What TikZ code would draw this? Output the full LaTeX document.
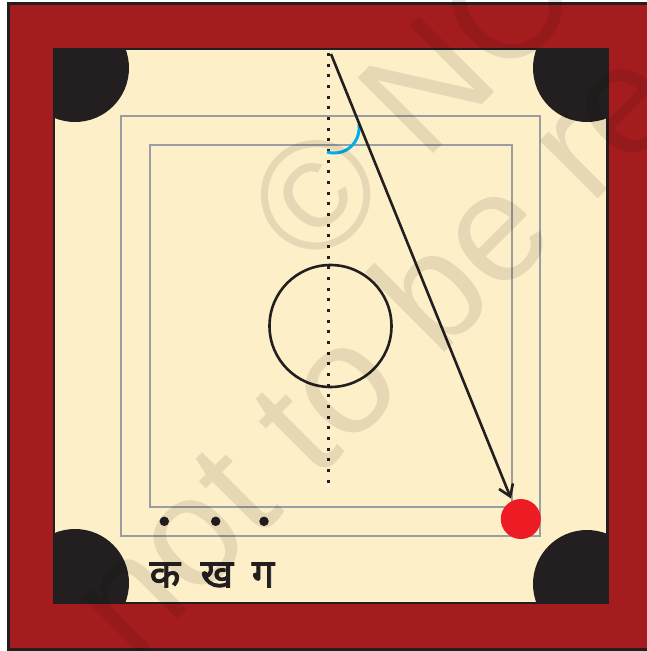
\documentclass[tikz,border=0pt]{standalone}
\usepackage{fontspec}
\usepackage{xcolor}
\usetikzlibrary{arrows.meta,positioning}
\setmainfont{Liberation Sans}
\newfontfamily\hindifont[Script=Devanagari,FakeBold=2.2]{Noto Sans}
\definecolor{frame}{HTML}{A51C1F}
\definecolor{ink}{HTML}{231F20}
\definecolor{cream}{HTML}{FDEFC8}
\definecolor{linegray}{HTML}{9A9DA1}
\definecolor{strikerred}{HTML}{ED1C24}
\definecolor{anglecyan}{HTML}{00AEEF}
\definecolor{stampgray}{HTML}{E8E7E6}
\tikzset{
  pocket/.style={fill=ink,draw=none,circle,inner sep=0pt,minimum size=108pt},
  baseline/.style={draw=linegray,line width=2pt},
  coinspot/.style={fill=ink,draw=none,circle,inner sep=0pt,minimum size=9.5pt},
  hindilabel/.style={font=\hindifont\fontsize{40}{40}\selectfont,text=ink,inner sep=0pt},
  flowarr/.style={-{Straight Barb[length=11pt,width=15pt,line width=2.6pt]},line width=2.6pt,color=ink},
  stamp/.style={text=stampgray,inner sep=0pt,anchor=base west,rotate=45,font=\fontsize{155}{155}\selectfont}
}
\begin{document}
\begin{tikzpicture}[x=1pt,y=-1pt]
  \useasboundingbox (0,0) rectangle (647,651);
  \clip (0,0) rectangle (647,651);
  \draw[fill=frame,draw=ink,line width=3pt] (8,3) rectangle (670,649);
  \fill[cream] (54,49) rectangle (607.5,603);
  \begin{scope}
    \clip (54,49) rectangle (607.5,603);
    \node[pocket] (tl) at (75,68) {};
    \node[pocket] (tr) at (587,68) {};
    \node[pocket] (bl) at (75,583) {};
    \node[pocket] (br) at (587,584) {};
  \end{scope}
  \draw[ink,line width=2.2pt] (54,49) rectangle (607.5,603);

  \draw[baseline] (121,116) rectangle (540,536);
  \draw[baseline] (150,145) rectangle (512,507);
  \node[circle,draw=ink,line width=2.6pt,minimum size=122pt,inner sep=0pt] (centre) at (330.5,326) {};

  \draw[ink,line width=3pt,dash pattern=on 3pt off 7.67pt] (328,53) -- (328,484);
  \draw[anglecyan,line width=3pt] (327,152) .. controls (345,157) and (361,143) .. (359,124);

  \node[circle,fill=strikerred,inner sep=0pt,minimum size=40pt] (striker) at (520.8,519) {};
  \coordinate (aimstart) at (331,54);
  \draw[flowarr,shorten >=2.5pt] (aimstart) -- (striker.116);

  \node[coinspot] (spotk) at (164.3,521.3) {};
  \node[coinspot] (spotkh) at (215.7,521.3) {};
  \node[coinspot] (spotg) at (264,521.3) {};
  \node[hindilabel] (labk) at (165,575) {क};
  \node[hindilabel] (labkh) at (217,575) {ख};
  \node[hindilabel] (labg) at (263,575) {ग};

  \begin{scope}[blend mode=multiply]
    \node[stamp] (stampa) at (313,274) {© NC};
    \node[stamp] (stampb) at (133,664) {not to be re};
  \end{scope}
\end{tikzpicture}
\end{document}
